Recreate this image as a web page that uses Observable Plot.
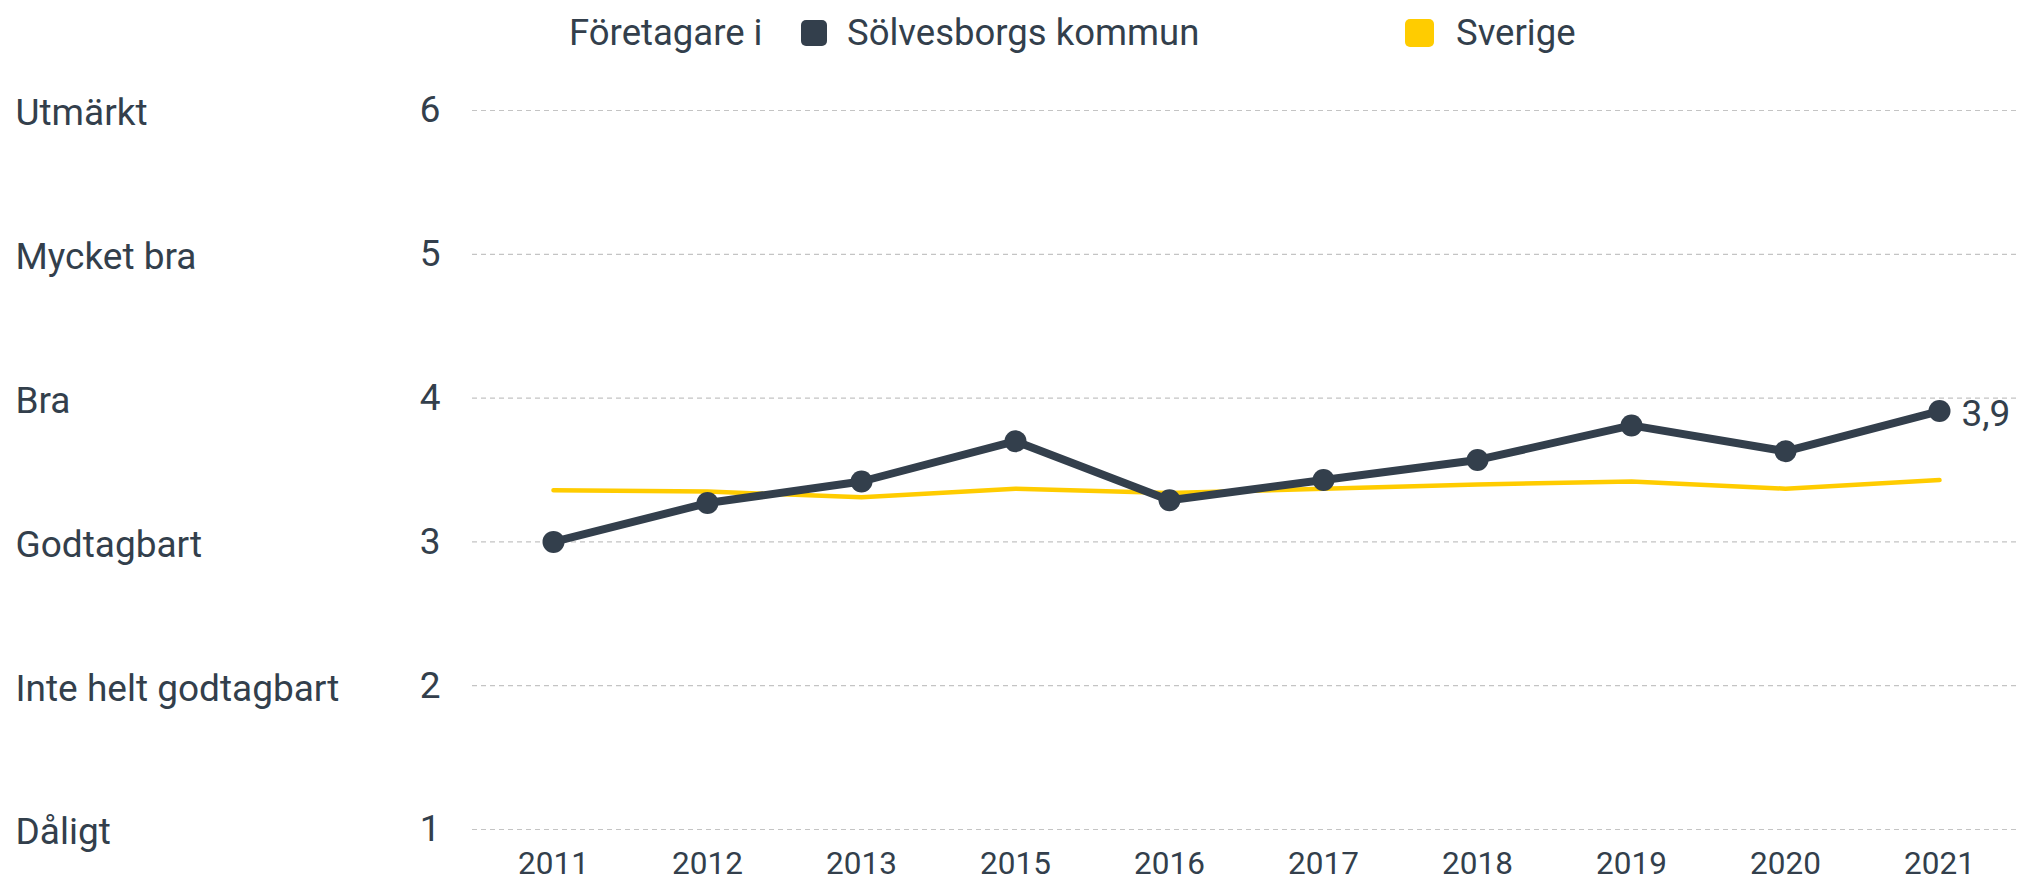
<!DOCTYPE html>
<html>
<head>
<meta charset="utf-8">
<script src="https://cdn.jsdelivr.net/npm/d3@7"></script>
<script src="https://cdn.jsdelivr.net/npm/@observablehq/plot@0.6"></script>
<style>
  html, body { margin: 0; padding: 0; background: #fff; }
  body { width: 2027px; height: 881px; overflow: hidden; font-family: Roboto, "Noto Sans", sans-serif; color: #333f4c; }
  #legend { position: relative; height: 62px; font-size: 36.5px; }
  #legend span { position: absolute; top: 11px; line-height: 44px; white-space: nowrap; }
  #legend .sw { position: absolute; top: 20px; width: 26px; height: 26px; border-radius: 5px; }
  svg { display: block; }
</style>
</head>
<body>
<div id="legend"></div>
<div id="chart"></div>
<script>
// ---- data ----
const years = ["2011", "2012", "2013", "2015", "2016", "2017", "2018", "2019", "2020", "2021"];
const solvesborg = [3.00, 3.27, 3.42, 3.70, 3.29, 3.43, 3.57, 3.81, 3.63, 3.91];
const sverige = [3.36, 3.35, 3.31, 3.37, 3.34, 3.37, 3.40, 3.42, 3.37, 3.43];
const yTicks = [1, 2, 3, 4, 5, 6];
const ratingLabels = ["Dåligt", "Inte helt godtagbart", "Godtagbart", "Bra", "Mycket bra", "Utmärkt"];
const legendTitle = "Företagare i";
const seriesNames = ["Sölvesborgs kommun", "Sverige"];
const seriesColors = ["#333f4c", "#ffcc00"];

// ---- legend ----
const legend = document.getElementById("legend");
legend.innerHTML = `
  <span style="left:569px">${legendTitle}</span>
  <div class="sw" style="left:801px;background:${seriesColors[0]}"></div>
  <span style="left:847px">${seriesNames[0]}</span>
  <div class="sw" style="left:1405px;background:${seriesColors[1]};width:29px;height:28px;top:19px"></div>
  <span style="left:1456px">${seriesNames[1]}</span>`;

// ---- tables ----
const solTable = years.map((y, i) => ({year: y, value: solvesborg[i]}));
const sveTable = years.map((y, i) => ({year: y, value: sverige[i]}));
const catTable = yTicks.map((v, i) => ({value: v, label: ratingLabels[i]}));
const last = solTable[solTable.length - 1];
const fmt = v => v.toFixed(1).replace(".", ",");

const chart = Plot.plot({
  width: 2027,
  height: 819,
  marginLeft: 472,
  marginRight: 8,
  marginTop: 48,
  marginBottom: 52,
  style: {fontFamily: "Roboto, 'Noto Sans', sans-serif", color: "#333f4c", background: "#fff"},
  x: {type: "point", domain: years, padding: 0.5},
  y: {domain: [1, 6]},
  marks: [
    Plot.ruleY(yTicks, {stroke: "#c4c4c4", strokeWidth: 1.2, strokeDasharray: "5,4"}),
    Plot.axisY(yTicks, {tickSize: 0, tickPadding: 32, fontSize: 37, tickFormat: d => String(d), fill: "#333f4c", label: null}),
    Plot.axisX(years, {tickSize: 0, tickPadding: 22, fontSize: 31.5, fill: "#333f4c", label: null}),
    Plot.text(catTable, {y: "value", text: "label", frameAnchor: "left", textAnchor: "start", dx: -457, dy: 3, fontSize: 37, fill: "#333f4c"}),
    Plot.line(sveTable, {x: "year", y: "value", stroke: seriesColors[1], strokeWidth: 4.5}),
    Plot.line(solTable, {x: "year", y: "value", stroke: seriesColors[0], strokeWidth: 8}),
    Plot.dot(solTable, {x: "year", y: "value", r: 11, fill: seriesColors[0]}),
    Plot.text([last], {x: "year", y: "value", text: d => fmt(d.value), textAnchor: "start", dx: 22, dy: 3, fontSize: 37, fill: "#333f4c"})
  ]
});
document.getElementById("chart").appendChild(chart);
</script>
</body>
</html>
